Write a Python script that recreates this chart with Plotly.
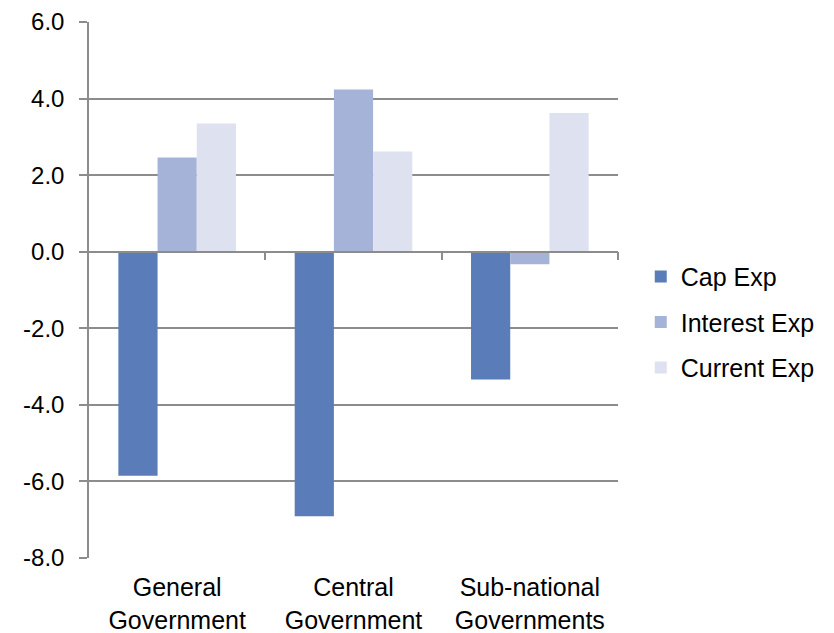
import plotly.graph_objects as go

categories = ["General<br>Government", "Central<br>Government", "Sub-national<br>Governments"]
series_names = ["Cap Exp", "Interest Exp", "Current Exp"]
cap_exp = [-5.85, -6.91, -3.34]
interest_exp = [2.46, 4.24, -0.33]
current_exp = [3.35, 2.62, 3.62]
y_ticks = [-8, -6, -4, -2, 0, 2, 4, 6]
y_tick_labels = [f"{v:.1f}" for v in y_ticks]

colors = ["#5A7DB9", "#A6B3D8", "#DEE1F0"]
values = [cap_exp, interest_exp, current_exp]

fig = go.Figure()
idx = list(range(len(categories)))
for name, vals, col in zip(series_names, values, colors):
    fig.add_trace(go.Bar(x=idx, y=vals, name=name, marker=dict(color=col, line=dict(width=0)),
                         legendgroup=name))

ymin, ymax = y_ticks[0], y_ticks[-1]
grid = "#8C8C8C"
family = "Liberation Sans, Arial, sans-serif"
font = dict(family=family, size=24, color="#000000")
font_big = dict(family=family, size=25, color="#000000")

fig.update_layout(
    width=834, height=633,
    margin=dict(l=89, r=216, t=22, b=75, autoexpand=False),
    paper_bgcolor="white", plot_bgcolor="white",
    barmode="group", bargap=0.333, bargroupgap=0,
    font=font,
    showlegend=True,
    legend=dict(x=1.043, y=0.44, xanchor="left", yanchor="middle",
                tracegroupgap=10, font=font_big, bgcolor="rgba(0,0,0,0)"),
    xaxis=dict(type="linear", range=[-0.5, len(categories) - 0.5],
               anchor="free", position=(0 - ymin) / (ymax - ymin),
               showline=True, linecolor=grid, linewidth=1.5,
               ticks="outside", ticklen=8, tickcolor=grid, tickwidth=1.5,
               tickvals=[i + 0.5 for i in idx], showticklabels=False,
               showgrid=False, zeroline=False, automargin=False),
    xaxis2=dict(type="linear", range=[-0.5, len(categories) - 0.5], overlaying="x",
                anchor="y", side="bottom",
                tickvals=idx, ticktext=categories, ticks="",
                ticklabelstandoff=12, automargin=False,
                showline=False, showgrid=False, zeroline=False, tickfont=font_big),
    yaxis=dict(range=[ymin, ymax], tickvals=y_ticks, ticktext=y_tick_labels,
               showgrid=True, gridcolor=grid, gridwidth=1.5,
               showline=True, linecolor=grid, linewidth=1.5,
               ticks="outside", ticklen=8, tickcolor=grid, tickwidth=1.5,
               ticklabelstandoff=10, automargin=False,
               zeroline=False, tickfont=font),
)
# invisible helper trace so the label axis is drawn
fig.add_trace(go.Scatter(x=[idx[0]], y=[0], xaxis="x2", mode="markers",
                         marker=dict(opacity=0), showlegend=False, hoverinfo="skip"))

fig.write_html("out.html")
